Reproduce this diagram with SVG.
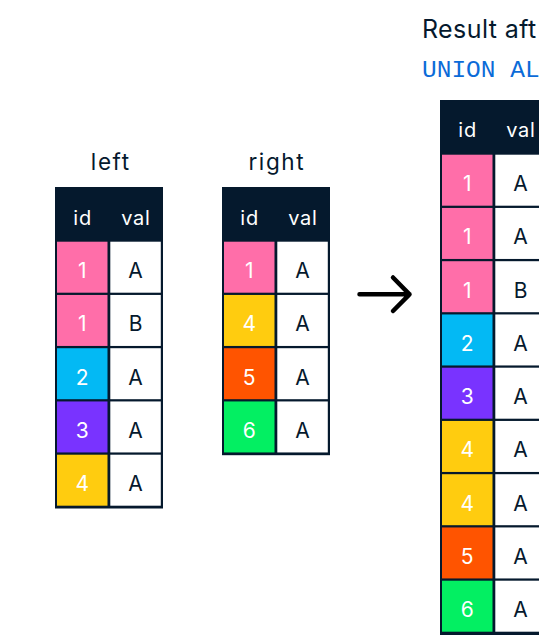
<svg xmlns="http://www.w3.org/2000/svg" width="539" height="636" viewBox="0 0 539 636">
  <style>
    .frame { fill: #05192D; }
    .cw { fill: #FFFFFF; }
    .pink { fill: #FF6EA9; }
    .blue { fill: #03B9F4; }
    .purple { fill: #7933FF; }
    .yellow { fill: #FFCC0F; }
    .orange { fill: #FF5400; }
    .green { fill: #03EF62; }
    .hd { font-family: Inter, "Liberation Sans", sans-serif; font-size: 20px; letter-spacing: 0.8px; fill: #FFFFFF; text-anchor: middle; }
    .cl { font-family: Inter, "Liberation Sans", sans-serif; font-size: 21px; text-anchor: middle; }
    .wt { fill: #FFFFFF; }
    .dk { fill: #05192D; }
    .lbl { font-family: Inter, "Liberation Sans", sans-serif; font-size: 22.5px; letter-spacing: 1.6px; fill: #05192D; text-anchor: middle; }
    .title { font-family: Inter, "Liberation Sans", sans-serif; font-size: 25px; letter-spacing: 0.4px; fill: #05192D; }
    .code { font-family: "Liberation Mono", "DejaVu Sans Mono", monospace; font-size: 24.5px; fill: #0B6BD8; }
    .conn { fill: none; stroke: #000000; stroke-width: 4.5; stroke-linecap: round; stroke-linejoin: round; }
  </style>

  <g id="label-left"><text class="lbl" x="110.8" y="169.5">left</text></g>
  <g id="label-right"><text class="lbl" x="276.8" y="169.5">right</text></g>
  <g id="label-result">
    <text class="title" x="422" y="38.3">Result aft</text>
    <text class="code" x="422" y="76.7">UNION AL</text>
  </g>

  <g id="table-left" transform="translate(55,187)">
    <rect class="frame" x="0" y="0" width="108" height="321.5"/>
    <text class="hd" x="27.65" y="38">id</text>
    <text class="hd" x="80.95" y="38">val</text>
    <rect class="pink" x="2" y="54.7" width="50.5" height="51"/>
    <rect class="cw" x="55.3" y="54.7" width="50.5" height="51"/>
    <text class="cl wt" x="27.25" y="91.2">1</text>
    <text class="cl dk" x="80.55" y="91.2">A</text>
    <rect class="pink" x="2" y="107.95" width="50.5" height="51"/>
    <rect class="cw" x="55.3" y="107.95" width="50.5" height="51"/>
    <text class="cl wt" x="27.25" y="144.45">1</text>
    <text class="cl dk" x="80.55" y="144.45">B</text>
    <rect class="blue" x="2" y="161.2" width="50.5" height="51"/>
    <rect class="cw" x="55.3" y="161.2" width="50.5" height="51"/>
    <text class="cl wt" x="27.25" y="197.7">2</text>
    <text class="cl dk" x="80.55" y="197.7">A</text>
    <rect class="purple" x="2" y="214.45" width="50.5" height="51"/>
    <rect class="cw" x="55.3" y="214.45" width="50.5" height="51"/>
    <text class="cl wt" x="27.25" y="250.95">3</text>
    <text class="cl dk" x="80.55" y="250.95">A</text>
    <rect class="yellow" x="2" y="267.7" width="50.5" height="51"/>
    <rect class="cw" x="55.3" y="267.7" width="50.5" height="51"/>
    <text class="cl wt" x="27.25" y="304.2">4</text>
    <text class="cl dk" x="80.55" y="304.2">A</text>
  </g>

  <g id="table-right" transform="translate(222,187)">
    <rect class="frame" x="0" y="0" width="108" height="268.2"/>
    <text class="hd" x="27.65" y="38">id</text>
    <text class="hd" x="80.95" y="38">val</text>
    <rect class="pink" x="2" y="54.7" width="50.5" height="51"/>
    <rect class="cw" x="55.3" y="54.7" width="50.5" height="51"/>
    <text class="cl wt" x="27.25" y="91.2">1</text>
    <text class="cl dk" x="80.55" y="91.2">A</text>
    <rect class="yellow" x="2" y="107.95" width="50.5" height="51"/>
    <rect class="cw" x="55.3" y="107.95" width="50.5" height="51"/>
    <text class="cl wt" x="27.25" y="144.45">4</text>
    <text class="cl dk" x="80.55" y="144.45">A</text>
    <rect class="orange" x="2" y="161.2" width="50.5" height="51"/>
    <rect class="cw" x="55.3" y="161.2" width="50.5" height="51"/>
    <text class="cl wt" x="27.25" y="197.7">5</text>
    <text class="cl dk" x="80.55" y="197.7">A</text>
    <rect class="green" x="2" y="214.45" width="50.5" height="51"/>
    <rect class="cw" x="55.3" y="214.45" width="50.5" height="51"/>
    <text class="cl wt" x="27.25" y="250.95">6</text>
    <text class="cl dk" x="80.55" y="250.95">A</text>
  </g>

  <g id="table-result" transform="translate(440,100)">
    <rect class="frame" x="0" y="0" width="108" height="535"/>
    <text class="hd" x="27.65" y="37">id</text>
    <text class="hd" x="80.95" y="37">val</text>
    <rect class="pink" x="2" y="54.7" width="50.5" height="51"/>
    <rect class="cw" x="55.3" y="54.7" width="50.5" height="51"/>
    <text class="cl wt" x="27.25" y="91.2">1</text>
    <text class="cl dk" x="80.55" y="91.2">A</text>
    <rect class="pink" x="2" y="107.95" width="50.5" height="51"/>
    <rect class="cw" x="55.3" y="107.95" width="50.5" height="51"/>
    <text class="cl wt" x="27.25" y="144.45">1</text>
    <text class="cl dk" x="80.55" y="144.45">A</text>
    <rect class="pink" x="2" y="161.2" width="50.5" height="51"/>
    <rect class="cw" x="55.3" y="161.2" width="50.5" height="51"/>
    <text class="cl wt" x="27.25" y="197.7">1</text>
    <text class="cl dk" x="80.55" y="197.7">B</text>
    <rect class="blue" x="2" y="214.45" width="50.5" height="51"/>
    <rect class="cw" x="55.3" y="214.45" width="50.5" height="51"/>
    <text class="cl wt" x="27.25" y="250.95">2</text>
    <text class="cl dk" x="80.55" y="250.95">A</text>
    <rect class="purple" x="2" y="267.7" width="50.5" height="51"/>
    <rect class="cw" x="55.3" y="267.7" width="50.5" height="51"/>
    <text class="cl wt" x="27.25" y="304.2">3</text>
    <text class="cl dk" x="80.55" y="304.2">A</text>
    <rect class="yellow" x="2" y="320.95" width="50.5" height="51"/>
    <rect class="cw" x="55.3" y="320.95" width="50.5" height="51"/>
    <text class="cl wt" x="27.25" y="357.45">4</text>
    <text class="cl dk" x="80.55" y="357.45">A</text>
    <rect class="yellow" x="2" y="374.2" width="50.5" height="51"/>
    <rect class="cw" x="55.3" y="374.2" width="50.5" height="51"/>
    <text class="cl wt" x="27.25" y="410.7">4</text>
    <text class="cl dk" x="80.55" y="410.7">A</text>
    <rect class="orange" x="2" y="427.45" width="50.5" height="51"/>
    <rect class="cw" x="55.3" y="427.45" width="50.5" height="51"/>
    <text class="cl wt" x="27.25" y="463.95">5</text>
    <text class="cl dk" x="80.55" y="463.95">A</text>
    <rect class="green" x="2" y="480.7" width="50.5" height="51"/>
    <rect class="cw" x="55.3" y="480.7" width="50.5" height="51"/>
    <text class="cl wt" x="27.25" y="517.2">6</text>
    <text class="cl dk" x="80.55" y="517.2">A</text>
  </g>

  <g id="connectors">
    <path class="conn" d="M359.5 294.3 H409.5 M393 277.5 L409.5 294.3 L393 311"/>
  </g>
</svg>
